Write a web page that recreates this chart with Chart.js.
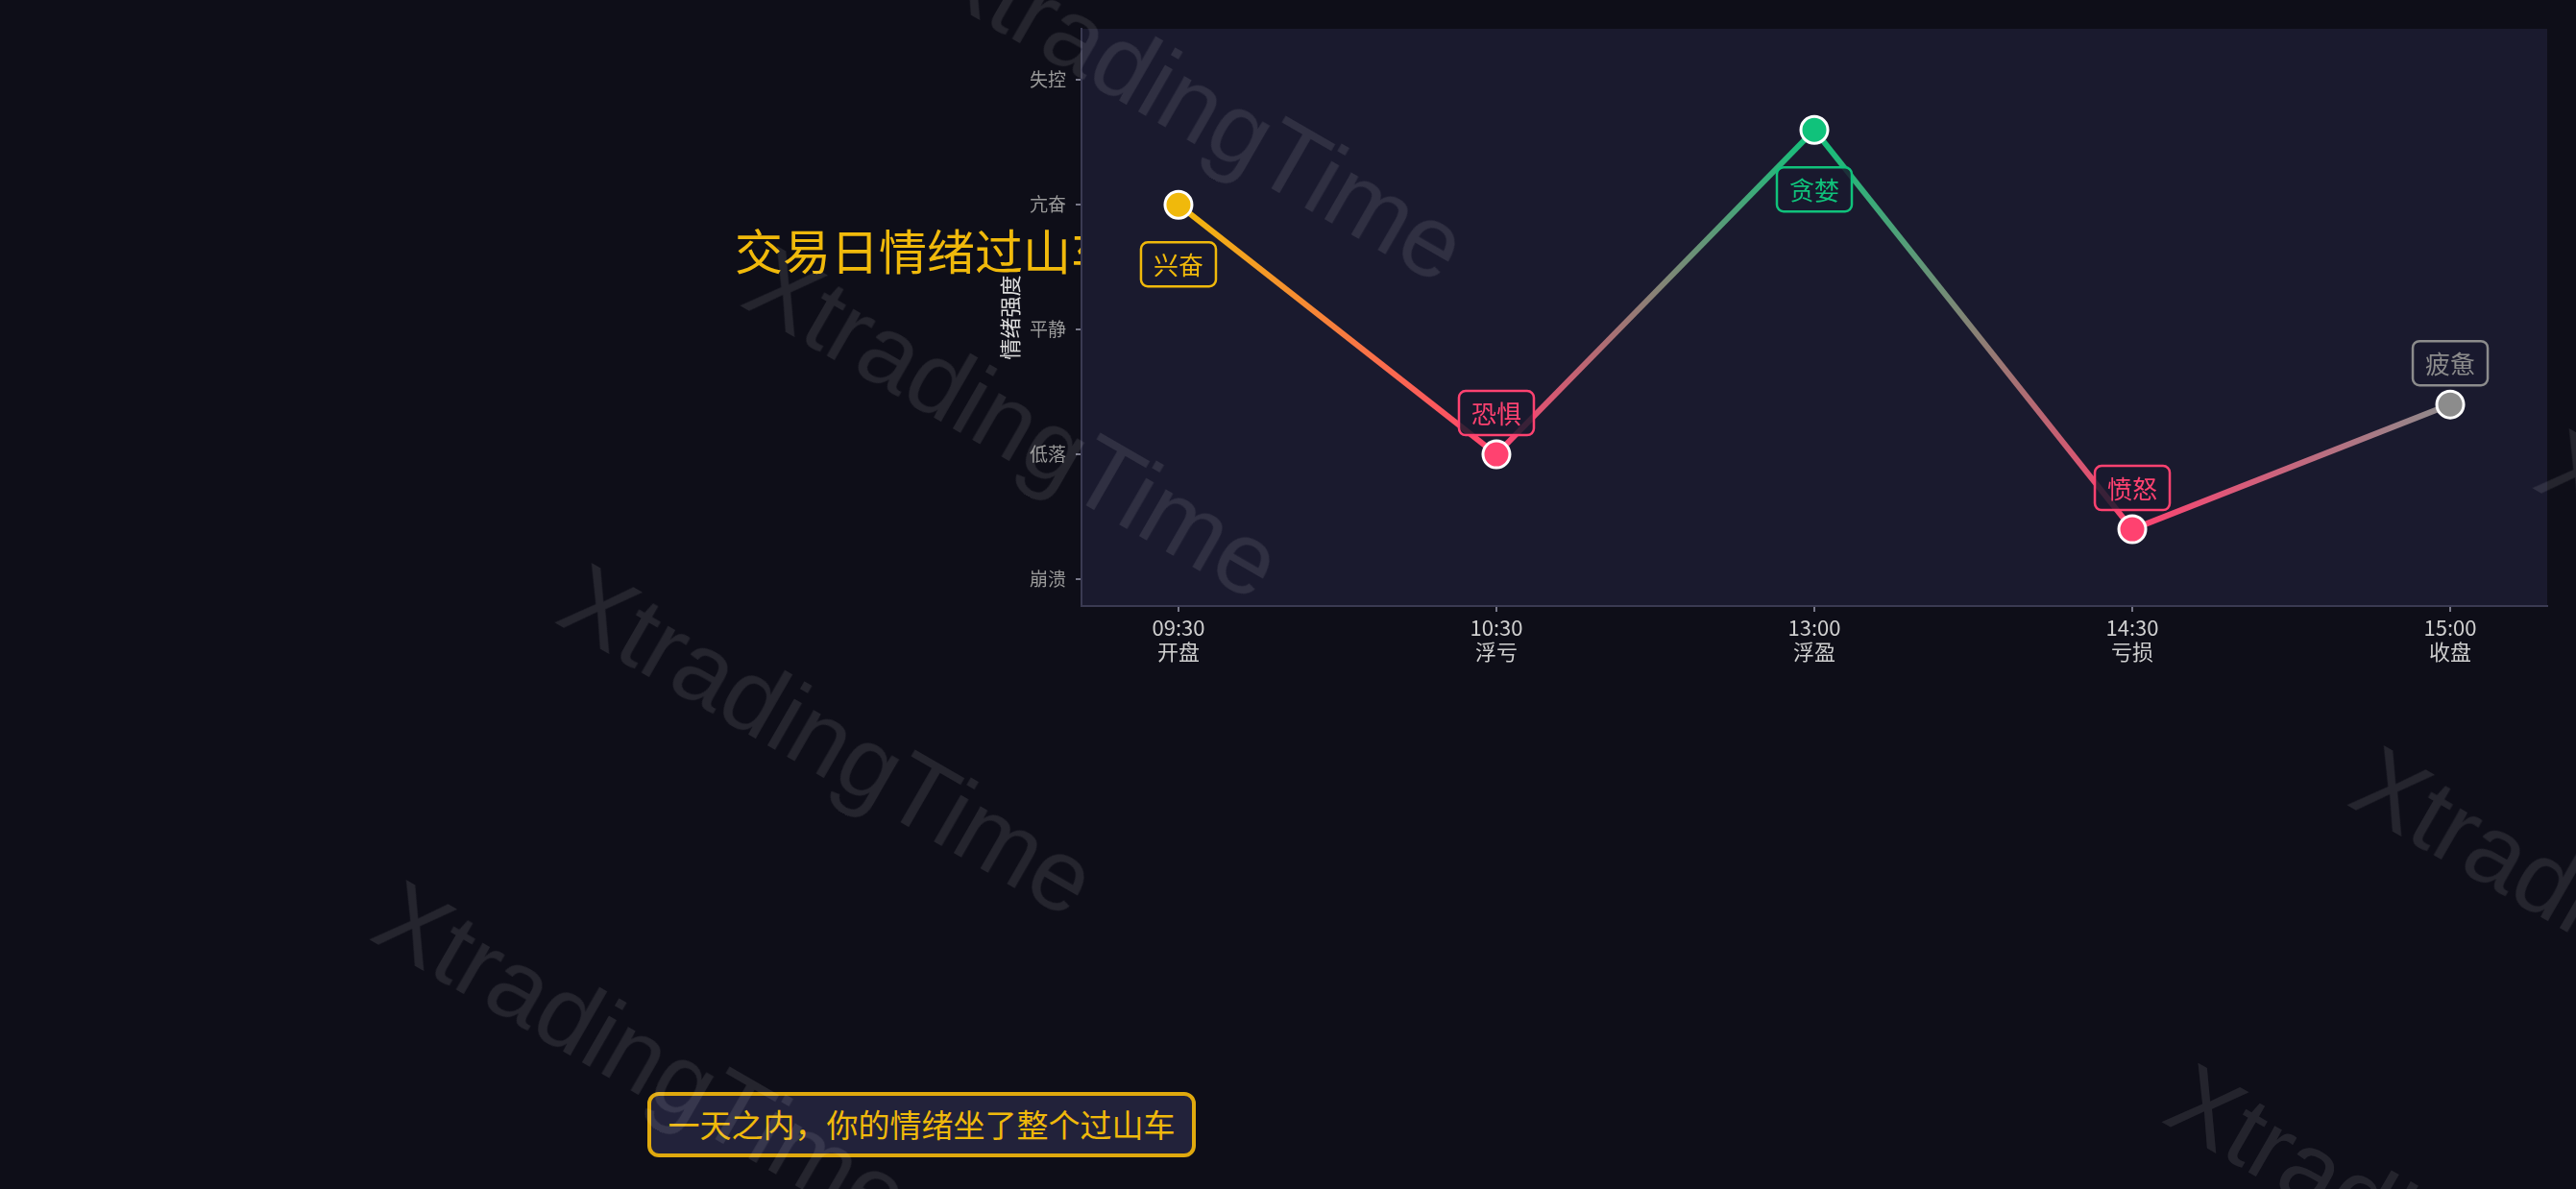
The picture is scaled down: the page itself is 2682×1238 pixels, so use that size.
<!DOCTYPE html>
<html lang="zh-CN">
<head>
<meta charset="utf-8">
<title>交易日情绪过山车</title>
<script src="https://cdn.jsdelivr.net/npm/chart.js@4.4.1/dist/chart.umd.min.js"></script>
<style>
  html, body { margin: 0; padding: 0; background: #0e0e18; overflow: hidden; }
  #stage { position: relative; width: 2682px; height: 1238px; overflow: hidden; font-family: 'Noto Sans CJK SC', sans-serif; }
  #chartTitle { position: absolute; left: 765px; top: 226px; font-size: 50px; line-height: 66px; color: #f0b90b; white-space: nowrap; }
  #emotionChart { position: absolute; left: 0; top: 0; }
  #note { position: absolute; left: 674px; top: 1137px; width: 571px; height: 68px; box-sizing: border-box;
          border: 4px solid #e0a90e; border-radius: 12px; background: #22223a; color: #f0b90b;
          font-size: 33px; line-height: 58px; text-align: center; white-space: nowrap; }
  .wm { position: absolute; font-family: 'Liberation Sans', Arial, sans-serif; font-size: 105px; line-height: 1;
        color: rgba(255, 255, 255, 0.095); transform-origin: 0 0; transform: rotate(30deg);
        white-space: nowrap; pointer-events: none; }
</style>
</head>
<body>
<div id="stage">
  <div id="chartTitle">交易日情绪过山车</div>
  <canvas id="emotionChart" width="2682" height="1238"></canvas>
  <div id="note">一天之内，你的情绪坐了整个过山车</div>
</div>
<script>
// 时间点 / 阶段
const timeLabels = ['09:30', '10:30', '13:00', '14:30', '15:00'];
const phaseLabels = ['开盘', '浮亏', '浮盈', '亏损', '收盘'];
// 情绪强度 (1 = 崩溃 ... 5 = 失控)
const emotionValues = [4, 2, 4.6, 1.4, 2.4];
const emotionNames = ['兴奋', '恐惧', '贪婪', '愤怒', '疲惫'];
const levelLabels = ['崩溃', '低落', '平静', '亢奋', '失控'];
const emotionColors = ['#f0b90b', '#ff4270', '#10c27b', '#ff4270', '#8c8c8c'];

const FONT = '"Noto Sans CJK SC", sans-serif';
Chart.defaults.font.family = FONT;

const canvas = document.getElementById('emotionChart');
const c2d = canvas.getContext('2d');

// plot background
const plotBg = {
    id: 'plotBg',
    beforeDraw(chart) {
        const { ctx, chartArea: a } = chart;
        ctx.save();
        ctx.fillStyle = '#1a1a2e';
        ctx.fillRect(a.left, a.top, a.right - a.left, a.bottom - a.top);
        ctx.restore();
    }
};

// emotion tags next to each point
const labelBoxes = {
    id: 'labelBoxes',
    afterDatasetsDraw(chart) {
        const ctx = chart.ctx;
        const meta = chart.getDatasetMeta(0);
        ctx.save();
        ctx.font = '26px ' + FONT;
        ctx.textAlign = 'center';
        ctx.textBaseline = 'middle';
        meta.data.forEach((pt, i) => {
            const w = ctx.measureText(emotionNames[i]).width + 26;
            const h = 46;
            const below = emotionValues[i] >= 4;
            const top = below ? pt.y + 39 : pt.y - 20 - h;
            ctx.beginPath();
            ctx.roundRect(pt.x - w / 2, top, w, h, 7);
            ctx.fillStyle = 'rgba(26, 26, 46, 0.85)';
            ctx.fill();
            ctx.lineWidth = 2.5;
            ctx.strokeStyle = emotionColors[i];
            ctx.stroke();
            ctx.fillStyle = emotionColors[i];
            ctx.fillText(emotionNames[i], pt.x, top + h / 2 + 1);
        });
        ctx.restore();
    }
};

new Chart(canvas, {
    type: 'line',
    data: {
        datasets: [{
            data: emotionValues.map((v, i) => ({ x: i, y: v })),
            borderWidth: 6,
            borderColor: emotionColors[0],
            tension: 0,
            clip: false,
            pointRadius: 14,
            pointHoverRadius: 14,
            pointBorderWidth: 3,
            pointBorderColor: '#ffffff',
            pointBackgroundColor: emotionColors,
            segment: {
                borderColor: s => {
                    const g = c2d.createLinearGradient(s.p0.x, s.p0.y, s.p1.x, s.p1.y);
                    g.addColorStop(0, emotionColors[s.p0DataIndex]);
                    g.addColorStop(1, emotionColors[s.p1DataIndex]);
                    return g;
                }
            }
        }]
    },
    options: {
        responsive: false,
        animation: false,
        layout: { padding: { left: 1038, right: 30, top: 30, bottom: 537 } },
        plugins: {
            legend: { display: false },
            tooltip: { enabled: false }
        },
        scales: {
            x: {
                type: 'linear',
                min: -0.305,
                max: 4.305,
                afterBuildTicks: s => { s.ticks = timeLabels.map((_, i) => ({ value: i })); },
                afterFit: s => { s.height = 70; },
                ticks: {
                    autoSkip: false,
                    maxRotation: 0,
                    padding: 4,
                    color: '#cfcfcf',
                    font: { size: 22, lineHeight: 1.15 },
                    callback: v => [timeLabels[v], phaseLabels[v]]
                },
                grid: { drawOnChartArea: false, drawTicks: true, tickLength: 6, color: '#777788', lineWidth: 2 },
                border: { color: '#3a3a52', width: 2 }
            },
            y: {
                type: 'linear',
                min: 0.785,
                max: 5.41,
                afterBuildTicks: s => { s.ticks = levelLabels.map((_, i) => ({ value: i + 1 })); },
                afterFit: s => { s.width = 88; },
                ticks: {
                    padding: 10,
                    color: '#9a9a9a',
                    font: { size: 19 },
                    callback: v => levelLabels[v - 1]
                },
                title: {
                    display: true,
                    text: '情绪强度',
                    color: '#dddddd',
                    font: { size: 22 },
                    padding: { top: 0, bottom: 0 }
                },
                grid: { drawOnChartArea: false, drawTicks: true, tickLength: 6, color: '#777788', lineWidth: 2 },
                border: { color: '#3a3a52', width: 2 }
            }
        }
    },
    plugins: [plotBg, labelBoxes]
});

// watermark tiles
const stage = document.getElementById('stage');
const wmBase = [[620, 570], [2486, 760]];
wmBase.forEach(([bx, by]) => {
    for (let k = -3; k <= 3; k++) {
        const el = document.createElement('div');
        el.className = 'wm';
        el.textContent = 'XtradingTime';
        el.style.left = (bx - 193 * k) + 'px';
        el.style.top = (by + 330 * k) + 'px';
        stage.appendChild(el);
    }
});
</script>
</body>
</html>
